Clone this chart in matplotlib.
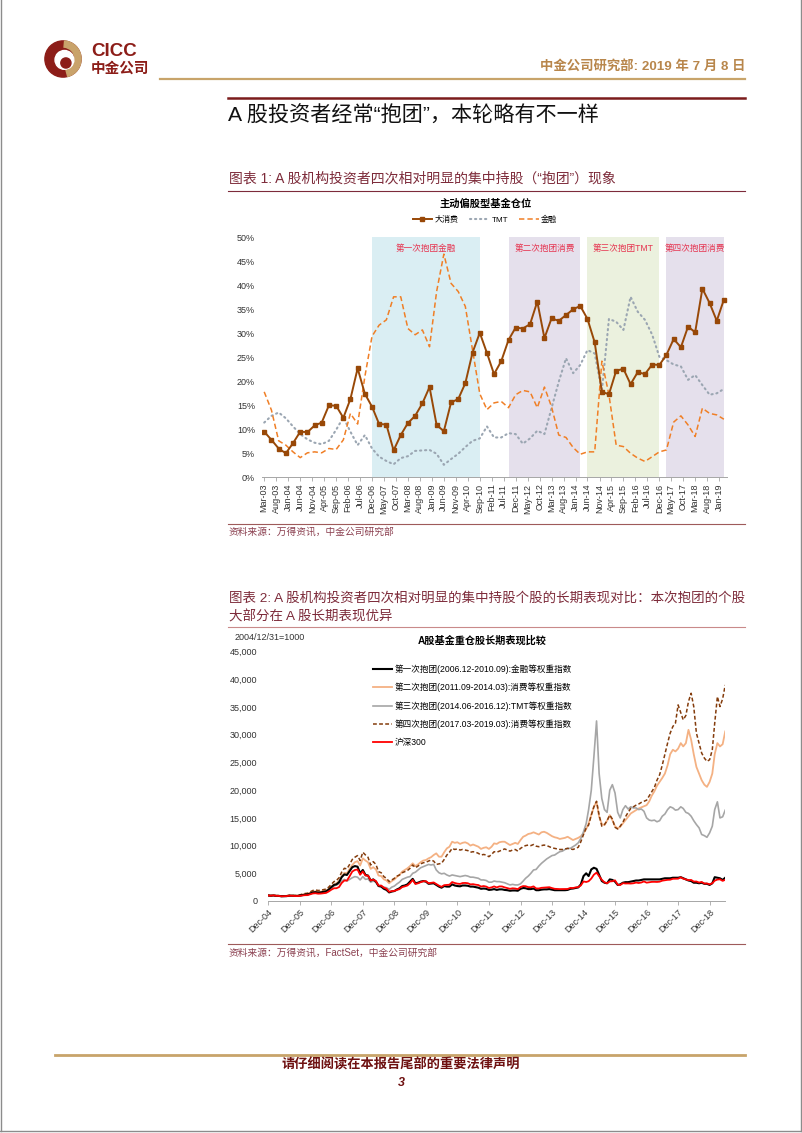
import numpy as np
import pandas as pd
import matplotlib
matplotlib.use('Agg')
import matplotlib.pyplot as plt
from matplotlib.lines import Line2D
from matplotlib.patches import Circle, Wedge

plt.rcParams['font.family'] = ['Liberation Sans', 'Noto Sans CJK SC']

W, H = 802, 1133


def fx(px):
    return px / W


def fy(py):
    return 1 - py / H


# ---------------- 图表1 数据: 主动偏股型基金仓位 (%), 季度 Mar-03 ~ Mar-19
consumer = [9.5, 7.8, 6.0, 5.0, 7.1, 9.5, 9.4, 10.8, 11.4, 15.0,
            14.9, 12.4, 16.3, 22.7, 17.4, 14.7, 11.1, 11.0, 5.6, 8.8,
            11.3, 12.8, 15.4, 18.8, 10.9, 9.6, 15.6, 16.3, 19.6, 26.0,
            30.1, 25.9, 21.5, 24.2, 28.6, 31.2, 31.0, 31.9, 36.6, 29.0,
            33.1, 32.6, 33.8, 35.0, 35.7, 33.0, 28.1, 17.8, 17.3, 22.2,
            22.6, 19.4, 21.9, 21.5, 23.5, 23.4, 25.5, 28.8, 27.1, 31.4,
            30.2, 39.3, 36.3, 32.6, 37.0]
tmt = [11.4, 12.8, 13.5, 12.3, 10.6, 9.0, 7.9, 7.2, 6.9, 7.6,
       9.9, 12.5, 9.5, 6.7, 8.8, 6.0, 4.3, 3.4, 2.7, 4.0,
       4.4, 5.5, 5.6, 5.7, 4.9, 2.6, 3.8, 4.9, 6.3, 7.6,
       8.1, 10.6, 8.3, 8.3, 9.2, 9.0, 7.0, 8.1, 9.7, 9.0,
       14.4, 19.9, 24.8, 21.7, 23.4, 26.5, 25.8, 18.0, 33.0, 32.4,
       30.7, 37.6, 34.5, 32.8, 29.7, 25.1, 24.4, 23.5, 23.1, 20.3,
       21.3, 19.2, 17.2, 17.5, 18.4]
fin = [17.8, 14.0, 7.6, 6.7, 5.3, 4.1, 5.1, 5.3, 5.1, 6.0,
       5.8, 7.8, 13.3, 11.1, 21.0, 29.4, 31.7, 32.8, 37.6, 37.6,
       31.0, 29.7, 30.7, 27.2, 38.7, 46.5, 40.4, 38.7, 35.6, 26.5,
       17.4, 14.1, 15.5, 15.8, 14.5, 17.2, 18.1, 17.8, 14.5, 18.8,
       14.7, 8.8, 8.3, 6.2, 4.8, 5.3, 5.3, 24.2, 17.2, 6.7,
       6.4, 5.0, 4.0, 3.3, 4.3, 5.3, 5.7, 11.5, 12.8, 10.9,
       8.5, 14.4, 13.3, 13.0, 12.1]
quarters = pd.date_range('2003-03-01', periods=len(consumer), freq='3MS')
tick1 = pd.date_range('2003-03-01', periods=39, freq='5MS')

period_start = ['2006-12-01', '2011-09-01', '2014-06-01', '2017-03-01']
period_end = ['2010-09-01', '2014-03-01', '2016-12-01', '2019-03-01']
period_label = ['第一次抱团金融', '第二次抱团消费', '第三次抱团TMT', '第四次抱团消费']
period_color = ['#DAEEF3', '#E5E0EC', '#EBF1DE', '#E5E0EC']

# ---------------- 图表2 数据: 2004/12/31=1000, 月度 Dec-04 ~ Jun-19
first_fin = [1000,
    950, 1000, 920, 930, 850, 870, 880, 950, 960, 920, 920, 980,
    1080, 1150, 1180, 1350, 1550, 1600, 1520, 1560, 1650, 1750, 2050, 2500,
    2900, 3000, 3400, 4300, 4800, 4700, 5400, 6100, 6300, 6200, 5000, 5600,
    4700, 4600, 3700, 3900, 3500, 2700, 2600, 2200, 2000, 1550, 1700, 1800,
    2100, 2300, 2700, 2800, 3000, 3500, 4000, 3200, 3300, 3500, 3600, 3500,
    3100, 3150, 3200, 2900, 2600, 2400, 2700, 2600, 2600, 3000, 2800, 2700,
    2650, 2800, 2800, 2750, 2600, 2600, 2500, 2400, 2200, 2250, 2200, 2000,
    2050, 2150, 2000, 2100, 2100, 2000, 1950, 1850, 1900, 1900, 1850, 2200,
    2350, 2300, 2150, 2150, 2250, 1950, 1950, 2050, 2100, 2100, 2150, 2050,
    1950, 1950, 1950, 1950, 1950, 2000, 2200, 2250, 2350, 2450, 3000, 4500,
    5000, 4500, 5700, 6000, 5800, 4700, 3600, 3300, 3200, 3900, 3800, 3500,
    2900, 3000, 3300, 3400, 3400, 3500, 3600, 3700, 3700, 3800, 3900, 3900,
    3900, 3900, 3900, 3900, 3900, 4000, 4100, 4100, 4100, 4200, 4200, 4200,
    4300, 4100, 3900, 3700, 3600, 3300, 3300, 3200, 3300, 3100, 3100, 2900,
    3200, 4300, 4200, 4100, 3800, 4200]
second_cons = [1000,
    960, 1020, 950, 950, 880, 900, 920, 1000, 1000, 960, 960, 1050,
    1150, 1250, 1300, 1500, 1700, 1750, 1650, 1700, 1800, 1900, 2200, 2600,
    3000, 3200, 3600, 4500, 5100, 5000, 5800, 6500, 7000, 7200, 6400, 7700,
    7300, 7000, 5800, 6100, 5700, 4600, 4500, 3900, 3700, 3200, 3600, 3900,
    4400, 4700, 5300, 5600, 5900, 6300, 6800, 6300, 6600, 7000, 7300, 7400,
    7700, 7900, 8300, 8600, 8000, 8000, 8800, 9500, 9800, 10700, 10500, 10600,
    10300, 10500, 10600, 10400, 10000, 10200, 10000, 9800, 9400, 9600, 9700, 9400,
    9800, 10400, 10300, 10600, 10700, 10700, 10400, 10100, 10300, 10500, 10300, 11000,
    11600, 11800, 12100, 12200, 12400, 12200, 12000, 12400, 12500, 12300, 12000, 11700,
    11500, 11400, 11200, 11300, 11400, 11600, 11300, 11000, 11200, 11400, 11700, 12200,
    13000, 14000, 15500, 17000, 17900, 15200, 13900, 13700, 14500, 15500, 14600, 13500,
    13100, 13400, 14000, 14600, 15200, 15800, 16100, 16400, 16700, 16900, 17100, 17300,
    18000, 19000, 19800, 20800, 21500, 22200, 23000, 24500, 26500, 27300, 27000, 27500,
    28500, 27900, 28500, 30900, 29100, 26500, 24200, 23000, 21800, 21000, 20600, 21500,
    23000, 26500, 28500, 27900, 28300, 30600]
third_tmt = [1000,
    950, 1000, 930, 920, 850, 860, 870, 930, 940, 900, 900, 950,
    1050, 1100, 1150, 1300, 1500, 1550, 1450, 1450, 1500, 1600, 1900, 2300,
    2700, 2900, 3100, 3600, 3900, 3600, 3900, 4200, 4400, 4300, 3800, 4400,
    3900, 4000, 3400, 3600, 3400, 2700, 2700, 2500, 2400, 2100, 2500, 2700,
    3100, 3400, 3900, 4100, 4300, 4400, 5000, 5200, 5600, 6000, 6200, 6400,
    6600, 6500, 6600, 5600, 5100, 4900, 5000, 4700, 4500, 4700, 4600, 4500,
    4400, 4500, 4600, 4500, 4300, 4300, 4200, 4100, 3800, 3800, 3700, 3400,
    3400, 3600, 3500, 3500, 3400, 3300, 3100, 2900, 3000, 2900, 2900, 3100,
    3600, 4100, 4500, 5000, 5600, 5700, 6300, 6800, 7200, 7600, 7900, 8200,
    8300, 8600, 8900, 9000, 9300, 9500, 9500, 9800, 10100, 10500, 11300, 12500,
    14000, 16500, 20000, 26000, 32500, 23000, 18500, 16500, 16000, 20000, 21000, 19500,
    16000, 15000, 16500, 17200, 16600, 17000, 16800, 16800, 16500, 16600, 16200, 15000,
    14600, 14500, 14600, 14300, 14500, 15300, 15700, 16500, 17000, 16800, 16400, 16500,
    17000, 16700, 16000, 15800, 15300, 14500, 13800, 13200, 12000, 11800, 11500, 12300,
    13500, 16500, 17900, 15000, 15200, 16400]
fourth_cons = [1000,
    970, 1040, 970, 970, 900, 930, 950, 1030, 1040, 1000, 1000, 1100,
    1250, 1350, 1400, 1650, 1900, 2000, 1900, 1950, 2050, 2150, 2500, 3000,
    3500, 3700, 4200, 5200, 5900, 5800, 6600, 7500, 7900, 8200, 7300, 8800,
    8300, 7900, 6500, 7100, 6600, 5300, 5100, 4400, 4100, 3500, 3800, 4100,
    4500, 4700, 5100, 5300, 5500, 5900, 6500, 6000, 6300, 6700, 6900, 7000,
    7200, 7400, 7200, 6600, 6700, 6800, 7500, 8300, 8800, 9500, 9300, 9400,
    9200, 9300, 9200, 9100, 8800, 8900, 8800, 8600, 8300, 8400, 8300, 8000,
    8400, 8900, 8800, 9000, 9200, 9400, 9200, 9000, 9200, 9300, 9000, 9500,
    9800, 10000, 10100, 10000, 10200, 9900, 9800, 10000, 10100, 10000, 9800, 9600,
    9500, 9400, 9300, 9300, 9400, 9500, 9400, 9300, 9500, 9700, 10700, 12000,
    13200, 13700, 15500, 17000, 18000, 15500, 13500, 13800, 14500, 15500, 14800, 13300,
    13000, 13500, 14200, 15200, 16000, 16700, 17000, 17300, 17500, 17800, 18000, 18200,
    19000, 19700, 20500, 21800, 22800, 24500, 26500, 28500, 30300, 31500, 32100, 35400,
    34000, 32700, 33500, 36000, 37500, 35100, 30300, 28500, 26700, 25800, 25200, 25500,
    27300, 32100, 36900, 35100, 36500, 39000]
hs300 = [1000,
    950, 1020, 930, 930, 850, 870, 880, 950, 950, 900, 890, 920,
    1000, 1050, 1060, 1200, 1360, 1400, 1320, 1340, 1400, 1460, 1710, 2040,
    2300, 2300, 2520, 3250, 3700, 3680, 4470, 5320, 5600, 5690, 4740, 5340,
    4580, 4570, 3730, 3850, 3600, 2790, 2790, 2410, 2220, 1660, 1790, 1820,
    2010, 2140, 2510, 2640, 2800, 3210, 3810, 3070, 3190, 3400, 3550, 3580,
    3200, 3280, 3350, 3070, 2770, 2560, 2860, 2900, 2940, 3420, 3250, 3130,
    3080, 3240, 3260, 3210, 3000, 3040, 2940, 2880, 2610, 2700, 2600, 2350,
    2460, 2630, 2450, 2630, 2620, 2460, 2330, 2200, 2290, 2250, 2140, 2520,
    2690, 2670, 2500, 2480, 2640, 2270, 2260, 2380, 2410, 2430, 2490, 2330,
    2200, 2180, 2150, 2160, 2160, 2170, 2360, 2340, 2450, 2510, 2810, 3530,
    3430, 3570, 4050, 4750, 5120, 4470, 3820, 3370, 3200, 3530, 3570, 3730,
    2950, 2880, 3220, 3160, 3170, 3150, 3200, 3330, 3250, 3340, 3530, 3310,
    3390, 3450, 3460, 3440, 3490, 3670, 3740, 3820, 3840, 4010, 4010, 4030,
    4280, 4020, 3900, 3760, 3800, 3510, 3520, 3330, 3440, 3150, 3170, 3010,
    3200, 3670, 3870, 3910, 3630, 3830]
months = pd.date_range('2005-01-01', periods=len(hs300), freq='MS') - pd.Timedelta(days=1)
tick2 = pd.date_range('2005-01-01', periods=15, freq='12MS') - pd.Timedelta(days=1)
legend2 = ['第一次抱团(2006.12-2010.09):金融等权重指数',
           '第二次抱团(2011.09-2014.03):消费等权重指数',
           '第三次抱团(2014.06-2016.12):TMT等权重指数',
           '第四次抱团(2017.03-2019.03):消费等权重指数',
           '沪深300']

DARKRED = '#7B1C1C'
GOLD = '#C8A46A'
CAP = '#7D2B3A'
TICK = '#333333'

fig = plt.figure(figsize=(8.02, 11.33), dpi=100)


def hline(x0, x1, y, color, lw):
    fig.add_artist(Line2D([fx(x0), fx(x1)], [fy(y), fy(y)], color=color, lw=lw))


# page frame
fig.add_artist(Line2D([fx(0.8), fx(0.8)], [fy(0), fy(1131)], color='#8C8C8C', lw=1))
fig.add_artist(Line2D([fx(800.5), fx(800.5)], [fy(0), fy(1131)], color='#8C8C8C', lw=1))
hline(0, 802, 1131, '#8C8C8C', 1)

# ---------------- header
lg = fig.add_axes([fx(44), fy(78), 38 / W, 38 / H])
lg.set_xlim(-1.05, 1.05)
lg.set_ylim(-1.05, 1.05)
lg.set_aspect('equal')
lg.axis('off')
lg.add_patch(Circle((0, 0), 1.0, color='#8C1D18'))
lg.add_patch(Wedge((0, 0), 1.0, -75, 85, width=0.34, color='#C9A36B'))
lg.add_patch(Circle((0.08, -0.05), 0.52, color='white'))
lg.add_patch(Circle((0.16, -0.22), 0.28, color='#8C1D18'))
fig.text(fx(91), fy(52), 'CICC', fontsize=13.5, fontweight='bold', color='#8C1D18', va='center')
fig.text(fx(91), fy(68.5), '中金公司', fontsize=10.5, fontweight='bold', color='#8C1D18', va='center')
fig.text(fx(745), fy(66), '中金公司研究部: 2019 年 7 月 8 日', fontsize=9.6, fontweight='bold',
         color='#B8864B', ha='right', va='center')
hline(160, 745, 78.5, GOLD, 1.6)
hline(228, 745, 97.5, DARKRED, 1.8)
fig.text(fx(228), fy(116), 'A 股投资者经常“抱团”，本轮略有不一样', fontsize=15.2, color='#111111',
         va='center')

# ---------------- 图表 1
fig.text(fx(229), fy(179), '图表 1: A 股机构投资者四次相对明显的集中持股（“抱团”）现象', fontsize=10,
         color=CAP, va='center')
hline(228, 745, 191, CAP, 0.8)
fig.text(fx(486), fy(204), '主动偏股型基金仓位', fontsize=7.4, fontweight='bold', ha='center', va='center')

ax1 = fig.add_axes([fx(262), fy(477.3), (727 - 262) / W, (477.3 - 237.3) / H])
for s, e, c, lab in zip(period_start, period_end, period_color, period_label):
    s, e = pd.Timestamp(s), pd.Timestamp(e)
    ax1.axvspan(s, e, color=c, lw=0, zorder=0)
    ax1.text(s + (e - s) / 2, 47.6, lab, ha='center', va='center', fontsize=6.2, color='#E6334F', zorder=5)
l1, = ax1.plot(quarters, consumer, color='#984807', lw=1.4, marker='s', ms=2.2, zorder=4, label='大消费')
l2, = ax1.plot(quarters, tmt, color='#9BA6B2', lw=1.5, ls=(0, (0.6, 1.8)), dash_capstyle='round',
               zorder=3, label='TMT')
l3, = ax1.plot(quarters, fin, color='#F07F26', lw=1.1, ls=(0, (3.5, 2)), zorder=3, label='金融')
ax1.set_xlim(pd.Timestamp('2003-02-01'), pd.Timestamp('2019-04-10'))
ax1.set_ylim(0, 50)
ax1.set_yticks(np.arange(0, 51, 5))
ax1.set_yticklabels([f'{v}%' for v in range(0, 51, 5)], fontsize=6.5, color=TICK)
ax1.set_xticks(tick1)
ax1.set_xticklabels([d.strftime('%b-%y') for d in tick1], rotation=90, fontsize=6.5, color=TICK)
ax1.tick_params(axis='y', length=0, pad=5)
ax1.tick_params(axis='x', length=3, width=0.6, color='#A6A6A6', pad=1.5)
for sp in ['top', 'right', 'left']:
    ax1.spines[sp].set_visible(False)
ax1.spines['bottom'].set_color('#A6A6A6')
ax1.spines['bottom'].set_linewidth(0.7)
ax1.legend(handles=[l1, l2, l3], loc='center', bbox_to_anchor=(fx(485), fy(220)),
           bbox_transform=fig.transFigure, ncol=3, frameon=False, fontsize=5.8,
           handlelength=2.4, handletextpad=0.3, columnspacing=1.4)

hline(228, 745, 523.5, '#9E5A5A', 0.8)
fig.text(fx(229), fy(532), '资料来源：万得资讯，中金公司研究部', fontsize=7, color='#8B4050', va='center')

# ---------------- 图表 2
fig.text(fx(229), fy(598), '图表 2: A 股机构投资者四次相对明显的集中持股个股的长期表现对比：本次抱团的个股',
         fontsize=9.7, color=CAP, va='center')
fig.text(fx(229), fy(617), '大部分在 A 股长期表现优异', fontsize=9.7, color=CAP, va='center')
hline(228, 745, 627, '#C98A8A', 0.8)
fig.text(fx(235), fy(637), '2004/12/31=1000', fontsize=6.5, color=TICK, va='center')
fig.text(fx(482), fy(641), 'A股基金重仓股长期表现比较', fontsize=7.3, fontweight='bold', ha='center', va='center')

ax2 = fig.add_axes([fx(268.3), fy(901), (725.5 - 268.3) / W, (901 - 651.7) / H])
ax2.plot(months, first_fin, color='#000000', lw=1.5, zorder=4, label=legend2[0])
ax2.plot(months, second_cons, color='#F4B183', lw=1.3, zorder=2, label=legend2[1])
ax2.plot(months, third_tmt, color='#A6A6A6', lw=1.2, zorder=2, label=legend2[2])
ax2.plot(months, fourth_cons, color='#843C0C', lw=1.1, ls=(0, (2.5, 1.5)), zorder=3, label=legend2[3])
ax2.plot(months, hs300, color='#FF0000', lw=1.3, zorder=5, label=legend2[4])
ax2.set_xlim(months[0], pd.Timestamp('2019-07-03'))
ax2.set_ylim(0, 45000)
ax2.set_yticks(np.arange(0, 45001, 5000))
ax2.set_yticklabels([f'{v:,}' for v in range(0, 45001, 5000)], fontsize=6.5, color=TICK)
ax2.set_xticks(tick2)
ax2.set_xticklabels([d.strftime('%b-%y') for d in tick2], rotation=45, ha='right',
                    rotation_mode='anchor', fontsize=6.5, color=TICK)
ax2.tick_params(axis='y', length=0, pad=8)
ax2.tick_params(axis='x', length=3, width=0.6, color='#A6A6A6', pad=2)
for sp in ['top', 'right', 'left']:
    ax2.spines[sp].set_visible(False)
ax2.spines['bottom'].set_color('#A6A6A6')
ax2.spines['bottom'].set_linewidth(0.7)
ax2.legend(loc='upper left', bbox_to_anchor=(fx(373), fy(664)), bbox_transform=fig.transFigure,
           frameon=False, fontsize=6.2, handlelength=2.2, labelspacing=1.05, handletextpad=0.3,
           borderaxespad=0, borderpad=0)

hline(228, 745, 944, '#9E5A5A', 0.8)
fig.text(fx(229), fy(953), '资料来源：万得资讯，FactSet，中金公司研究部', fontsize=7, color='#8B4050', va='center')

# ---------------- footer
hline(55, 745, 1055, GOLD, 2)
fig.text(fx(401), fy(1065), '请仔细阅读在本报告尾部的重要法律声明', fontsize=9.5, fontweight='bold',
         color='#6E1010', ha='center', va='center')
fig.text(fx(401), fy(1083), '3', fontsize=9, fontweight='bold', style='italic', color='#6E1010',
         ha='center', va='center')

fig.savefig('out.png', dpi=100)
